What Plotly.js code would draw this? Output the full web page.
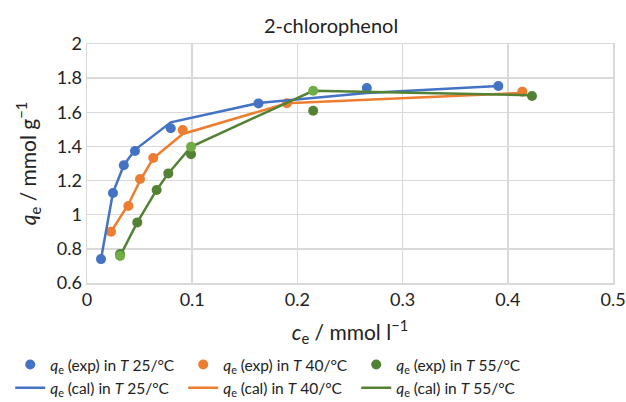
<!DOCTYPE html>
<html>
<head>
<meta charset="utf-8">
<script src="https://cdn.plot.ly/plotly-3.0.1.min.js"></script>
<style>html,body{margin:0;padding:0;background:#fff;}#chart{width:626px;height:402px;}</style>
</head>
<body>
<div id="chart"></div>
<script>
// 25 °C
const ce25 = [0.0133, 0.0247, 0.035, 0.0456, 0.0796, 0.163, 0.266, 0.391];
const qexp25 = [0.74, 1.127, 1.29, 1.373, 1.506, 1.652, 1.742, 1.754];
const qcal25 = [0.74, 1.13, 1.29, 1.38, 1.541, 1.654, 1.713, 1.754];
// 40 °C
const ce40 = [0.0228, 0.0393, 0.0504, 0.063, 0.091, 0.19, 0.4138];
const qexp40 = [0.90, 1.051, 1.209, 1.332, 1.496, 1.653, 1.721];
const qcal40 = [0.90, 1.06, 1.20, 1.33, 1.473, 1.653, 1.713];
// 55 °C
const ce55 = [0.0314, 0.0478, 0.0662, 0.0773, 0.0989, 0.215, 0.423];
const qexp55 = [0.770, 0.955, 1.145, 1.242, 1.354, 1.609, 1.695];
const qcal55 = [0.758, 0.955, 1.145, 1.242, 1.398, 1.726, 1.700];
// light-green calculated markers visible in the picture
const ceCalMark55 = [0.0314, 0.0989, 0.215];
const qCalMark55 = [0.758, 1.398, 1.726];

const blue = '#4472C4', orange = '#ED7D31', green = '#548235', lightGreen = '#70AD47';
const FONT = 'Lato, "Open Sans", sans-serif';

const traces = [
  {x: ce25, y: qexp25, mode: 'markers', name: '<i>q</i><sub>e</sub> (exp) in <i>T</i> 25/°C',
   marker: {color: blue, size: 10}},
  {x: ce40, y: qexp40, mode: 'markers', name: '<i>q</i><sub>e</sub> (exp) in <i>T</i> 40/°C',
   marker: {color: orange, size: 10}},
  {x: ce55, y: qexp55, mode: 'markers', name: '<i>q</i><sub>e</sub> (exp) in <i>T</i> 55/°C',
   marker: {color: green, size: 10}},
  {x: ce25, y: qcal25, mode: 'lines', name: '<i>q</i><sub>e</sub> (cal) in <i>T</i> 25/°C',
   line: {color: blue, width: 2.5}},
  {x: ce40, y: qcal40, mode: 'lines', name: '<i>q</i><sub>e</sub> (cal) in <i>T</i> 40/°C',
   line: {color: orange, width: 2.5}},
  {x: ce55, y: qcal55, mode: 'lines', name: '<i>q</i><sub>e</sub> (cal) in <i>T</i> 55/°C',
   line: {color: green, width: 2.5}},
  {x: ceCalMark55, y: qCalMark55, mode: 'markers', showlegend: false, hoverinfo: 'skip',
   marker: {color: lightGreen, size: 10}}
];

const layout = {
  width: 626, height: 402,
  margin: {l: 87, r: 13, t: 44, b: 119, autoexpand: false},
  paper_bgcolor: '#fff', plot_bgcolor: '#fff',
  font: {family: FONT, size: 16, color: '#222'},
  title: {text: '2-chlorophenol', font: {family: FONT, size: 20, color: '#222'},
          x: 0.464, xref: 'paper', xanchor: 'center', y: 0.936, yanchor: 'middle'},
  xaxis: {range: [0, 0.5], dtick: 0.1, tick0: 0, showgrid: true, gridcolor: '#d9d9d9', gridwidth: 1.5,
          zeroline: false, showline: true, linecolor: '#d9d9d9', linewidth: 1.5, mirror: true,
          ticks: '', tickfont: {family: FONT, size: 18, color: '#222'},
          title: {text: '<i>c</i><sub>e</sub> / mmol l<sup>−1</sup>', font: {family: FONT, size: 21, color: '#222'}, standoff: 16}},
  yaxis: {range: [0.6, 2], dtick: 0.2, tick0: 0.6, showgrid: true, gridcolor: '#d9d9d9', gridwidth: 1.5,
          zeroline: false, showline: true, linecolor: '#d9d9d9', linewidth: 1.5, mirror: true,
          ticks: '', tickfont: {family: FONT, size: 18, color: '#222'},
          title: {text: '<i>q</i><sub>e</sub> / mmol g<sup>−1</sup>', font: {family: FONT, size: 21, color: '#222'}, standoff: 14}},
  showlegend: true,
  legend: {orientation: 'h', x: -0.146, xanchor: 'left', y: -0.272, yanchor: 'top',
           entrywidth: 128, font: {family: FONT, size: 15.5, color: '#222'},
           tracegroupgap: 0, bgcolor: 'rgba(0,0,0,0)'}
};

Plotly.newPlot('chart', traces, layout, {displayModeBar: false, staticPlot: true});
</script>
</body>
</html>
